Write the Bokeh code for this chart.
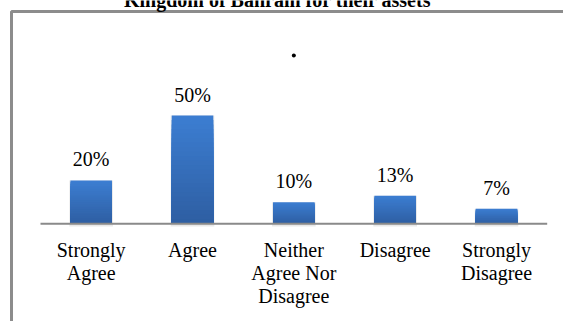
from bokeh.plotting import figure
from bokeh.models import Range1d, ColumnDataSource
from bokeh.core.properties import value
from bokeh.embed import file_html
from bokeh.resources import INLINE

# Survey responses (share of respondents, %)
categories = ["Strongly\nAgree", "Agree", "Neither\nAgree Nor\nDisagree", "Disagree", "Strongly\nDisagree"]
percentages = [20, 50, 10, 13, 7]
value_labels = ["20%", "50%", "10%", "13%", "7%"]
title_text = "Kingdom of Bahrain for their assets"

idx = list(range(len(categories)))
src = ColumnDataSource(dict(x=idx, top=percentages, cat=categories, lab=value_labels))

FONT = value("Liberation Serif")

p = figure(width=563, height=321, output_backend="svg", toolbar_location=None,
           x_range=Range1d(-0.8947, 4.661), y_range=Range1d(-45.1, 103.1),
           min_border=0, min_border_left=0, min_border_right=0,
           min_border_top=0, min_border_bottom=0)
p.axis.visible = False
p.grid.visible = False
p.outline_line_color = None
p.background_fill_color = "white"
p.border_fill_color = "white"

# outer chart frame (top and left edges)
p.line(x=[-0.786, -0.786, 4.8], y=[-50, 98.0, 98.0], line_color="#8c8c8c", line_width=3)

# soft shadow under bars
p.vbar(x="x", top="top", bottom=-1.2, width=0.43, source=src,
       fill_color="#9a9a9a", fill_alpha=0.22, line_color=None)

# bars with a vertical gradient: overlapping layers from the full height down,
# each one starting at zero so no seams appear between the layers
n = 24
c_top = (0x3C, 0x7E, 0xD2)
c_bot = (0x2E, 0x5E, 0xA2)
for k in range(n - 1, -1, -1):
    f1 = (k + 1) / n
    t = (k + 0.5) / n
    col = "#%02x%02x%02x" % tuple(int(round(b + (a - b) * t)) for a, b in zip(c_top, c_bot))
    p.vbar(x=idx, bottom=0, top=[v * f1 for v in percentages],
           width=0.41, fill_color=col, line_color=None)

# category axis baseline
p.segment(x0=-0.5, y0=0, x1=4.5, y1=0, line_color="#8a8a8a", line_width=2)

# value labels
p.text(x="x", y="top", text="lab", source=src, text_font=FONT, text_font_size="20px",
       text_color="#000000", text_align="center", text_baseline="alphabetic", y_offset=-21)

# category labels
p.text(x="x", y=0, text="cat", source=src, text_font=FONT, text_font_size="20px",
       text_color="#000000", text_align="center", text_baseline="top", y_offset=15,
       text_line_height=1.05)

# chart title (partly above the visible area) and stray dot
p.text(x=[1.839], y=[100.8], text=[title_text], text_font=FONT, text_font_size="20px",
       text_font_style="bold", text_color="#000000", text_align="center",
       text_baseline="alphabetic", y_offset=-5)
p.scatter(x=[2.0], y=[77.7], size=4, fill_color="black", line_color=None)

open("out.html", "w").write(file_html(p, INLINE))
